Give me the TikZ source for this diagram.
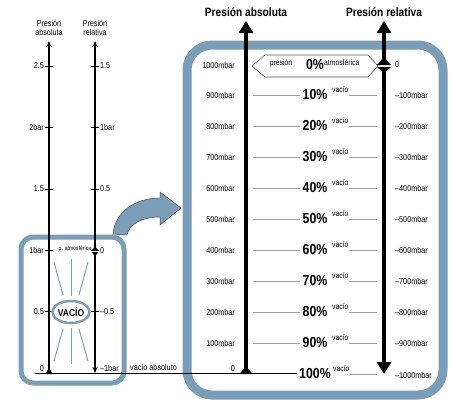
\documentclass[tikz,border=0pt]{standalone}
\usepackage{fontspec}
\setmainfont[FakeStretch=0.85]{Liberation Sans}
\usetikzlibrary{arrows.meta,shapes.geometric}

\definecolor{vacblue}{RGB}{122,157,184}
\pgfmathsetmacro\rowstep{30.9}
\pgfmathsetmacro\barstep{61.4}

\tikzset{
  lbl/.style={font=\fontsize{8.5}{9}\selectfont, inner sep=1pt},
  tinylbl/.style={font=\fontsize{6}{6}\selectfont, inner sep=0pt},
  smalllbl/.style={font=\fontsize{8}{8}\selectfont, inner sep=0pt},
  pct/.style={font=\fontsize{14.5}{15}\selectfont\bfseries, inner sep=2pt},
  title/.style={font=\fontsize{12}{12}\selectfont\bfseries},
  rule/.style={draw=gray!75, line width=0.9pt},
  ray/.style={draw=vacblue, line width=1pt},
  frame/.style={draw=vacblue},
  axis/.style={line width=2pt},
  bigaxis/.style={line width=4.5pt},
  tip/.style={-{Triangle[length=12pt,width=14pt]}}
}

\begin{document}
\begin{tikzpicture}[x=1pt,y=-1pt]
  \useasboundingbox (0,0) rectangle (460,405);

  % left: both scales in bar
  \draw [frame, line width=5pt, rounded corners=12pt] (21,237) rectangle (124,383);
  \node [lbl, align=center] (tabsL) at (49,28) {Presión\\absoluta};
  \node [lbl, align=center] (trelL) at (95,28) {Presión\\relativa};

  \foreach \xa/\ya/\xb/\yb in {54/262/63/295, 71/259/71/296, 88/262/79/295,
                               63/329/54/361, 71/328/71/364, 79/329/88/361}
    \draw [ray] (\xa,\ya) -- (\xb,\yb);

  \draw [axis, -{Stealth[length=6pt,width=5pt]}] (49,373) -- (49,41);
  \fill (45,374) -- (53,374) -- (49,368) -- cycle;
  \draw [axis, {Stealth[length=6pt,width=5pt]}-{Stealth[length=6pt,width=5pt]}] (95,373) -- (95,41);
  \fill (91.5,250.5) -- (98.5,250.5) -- (95,246.5) -- cycle;
  \fill (91.5,252) -- (98.5,252) -- (95,256) -- cycle;
  \draw [white, line width=1.2pt] (91,251.3) -- (99,251.3);

  \foreach \lab [count=\i from 1] in {0.5,1bar,1.5,2bar,2.5} {
    \pgfmathsetmacro\yy{373-\barstep*\i}
    \draw (45,\yy) -- (53,\yy);
    \node [lbl, anchor=east] (bA\i) at (45,\yy) {\lab};
  }
  \foreach \lab [count=\i from 1] in {–0.5,0,0.5,1bar,1.5} {
    \pgfmathsetmacro\yy{373-\barstep*\i}
    \draw (91,\yy) -- (99,\yy);
    \node [lbl, anchor=west] (bR\i) at (99,\yy) {\lab};
  }
  \node [lbl, anchor=south east] (bA0) at (45,373) {0};
  \node [lbl, anchor=south west] (bR0) at (99,373) {–1bar};
  \node [tinylbl] (patm) at (75,249) {p. atmosférica};

  \node [ellipse, draw=vacblue, line width=2.5pt, fill=white, minimum width=33pt,
         minimum height=22pt, inner sep=0pt, font=\fontsize{10}{10}\selectfont\bfseries]
        (vac) at (71,312) {VACÍO};

  % curved arrow to the zoom
  \filldraw [fill=vacblue, draw=black!70, line width=0.5pt]
    (113,234) .. controls (115,212) and (135,198) .. (160,198) -- (160,192)
    -- (181,208) -- (160,225) -- (160,217)
    .. controls (142,217) and (129,224) .. (127,235) -- cycle;

  % right: zoom in mbar
  \draw [frame, line width=9pt, rounded corners=25pt] (187,45) rectangle (443,395);
  \node [title] (tabs) at (246,12) {Presión absoluta};
  \node [title] (trel) at (384,12) {Presión relativa};

  \draw [line width=0.6pt, draw=black!70]
    (252,66) -- (265,55) -- (368,55) -- (378,66) -- (368,77) -- (265,77) -- cycle;
  \node [lbl, anchor=east] (abs0) at (236,65) {1000mbar};
  \node [lbl, anchor=west] (rel0) at (394,65) {0};
  \node [smalllbl, anchor=base] (pres) at (281,65) {presión};
  \node [pct] (pct0) at (315,65) {0\%};
  \node [smalllbl, anchor=base west] (atm) at (324,65) {atmosférica};

  \foreach \k in {1,...,9} {
    \pgfmathsetmacro\yy{65+\rowstep*\k}
    \pgfmathtruncatemacro\absv{1000-100*\k}
    \pgfmathtruncatemacro\relv{100*\k}
    \pgfmathtruncatemacro\pcv{10*\k}
    \node [lbl, anchor=east] (abs\k) at (236,\yy) {\absv mbar};
    \node [lbl, anchor=west] (rel\k) at (394,\yy) {–\relv mbar};
    \node [pct] (pct\k) at (315,\yy-1) {\pcv\%};
    \node [smalllbl, anchor=base west] (vac\k) at (332,\yy-3) {vacío};
    \draw [rule] (253,\yy) -- (pct\k.west |- 0,\yy);
    \draw [rule] (vac\k.east |- 0,\yy) -- (377,\yy);
  }

  \node [lbl, anchor=south east] (abs10) at (236,373) {0};
  \node [lbl, anchor=west] (rel10) at (394,375) {–1000mbar};
  \node [pct] (pct10) at (315,373) {100\%};
  \node [smalllbl, anchor=base west] (vac10) at (333,371) {vacío};
  \draw [rule] (vac10.east |- 0,374) -- (377,374);

  \draw [bigaxis, tip] (246,372) -- (246,21);
  \fill (239.5,374) -- (252.5,374) -- (246,366) -- cycle;
  \draw [bigaxis, tip] (384,65) -- (384,21);
  \fill (377,65) -- (391,65) -- (384,57) -- cycle;
  \fill (377,67) -- (391,67) -- (384,73) -- cycle;
  \draw [bigaxis, tip] (384,67) -- (384,374);

  % vacio absoluto
  \draw [line width=0.6pt] (35,373.5) -- (pct10.west |- 0,373.5);
  \node [lbl, anchor=south west] (vabs) at (129,372) {vacío absoluto};
\end{tikzpicture}
\end{document}
